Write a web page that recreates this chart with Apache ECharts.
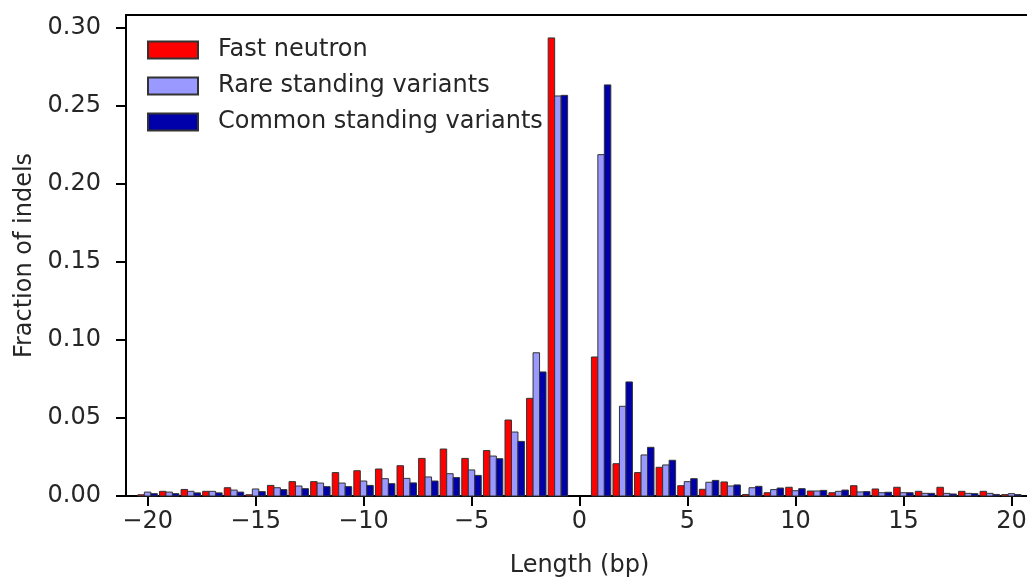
<!DOCTYPE html>
<html>
<head>
<meta charset="utf-8">
<script src="https://cdn.jsdelivr.net/npm/echarts@6/dist/echarts.min.js"></script>
<style>
html,body{margin:0;padding:0;background:#fff;}
#chart{width:1027px;height:577px;}
</style>
</head>
<body>
<div id="chart"></div>
<script>
const lengths = [-20,-19,-18,-17,-16,-15,-14,-13,-12,-11,-10,-9,-8,-7,-6,-5,-4,-3,-2,-1,
                 1,2,3,4,5,6,7,8,9,10,11,12,13,14,15,16,17,18,19,20];
const fastNeutron = [0.0008,0.003,0.0042,0.003,0.0053,0.0008,0.0068,0.0092,0.0092,0.015,0.0162,0.0173,0.0194,0.0241,0.0301,0.0241,0.0291,0.0487,0.0626,0.2936,
                     0.0891,0.0207,0.015,0.0184,0.0066,0.0043,0.009,0.001,0.0021,0.0056,0.0032,0.0021,0.0066,0.0045,0.0056,0.003,0.0056,0.003,0.003,0.0009];
const rareStanding = [0.0025,0.0025,0.003,0.003,0.0038,0.0045,0.0053,0.0064,0.0083,0.0083,0.0096,0.0111,0.0113,0.0122,0.0143,0.0167,0.0256,0.041,0.0918,0.2564,
                      0.2188,0.0575,0.0263,0.0199,0.0092,0.0088,0.0064,0.0053,0.0041,0.0034,0.0032,0.003,0.0026,0.0021,0.0021,0.0017,0.0017,0.0017,0.0017,0.0015];
const commonStanding = [0.0015,0.0015,0.002,0.002,0.0025,0.0028,0.0041,0.0047,0.006,0.006,0.0068,0.0079,0.0084,0.0096,0.0118,0.0132,0.0239,0.035,0.0795,0.2568,
                        0.2635,0.0731,0.0312,0.0229,0.0111,0.01,0.0071,0.0062,0.0051,0.0047,0.0036,0.0038,0.0028,0.0024,0.0021,0.0017,0.0013,0.0015,0.001,0.0009];
const seriesNames = ['Fast neutron','Rare standing variants','Common standing variants'];
const xTicks = [-20,-15,-10,-5,0,5,10,15,20];
const yTicks = [0,0.05,0.10,0.15,0.20,0.25,0.30];

const colors = ['#ff0000','#9999ff','#0000aa'];
const offsets = [-0.3, 0, 0.3];
const barW = 0.3;
const font = 'DejaVu Sans';
const textColor = '#262626';
const fs = 24;

function makeSeries(name, values, idx){
  return {
    name: name,
    type: 'custom',
    itemStyle: {color: colors[idx], borderColor: '#333', borderWidth: 1},
    data: lengths.map((l,i)=>[l, values[i]]),
    renderItem: function(params, api){
      const x = api.value(0), y = api.value(1);
      const p0 = api.coord([x + offsets[idx] - barW/2, y]);
      const p1 = api.coord([x + offsets[idx] + barW/2, 0]);
      return {
        type: 'rect',
        shape: {x: p0[0], y: p0[1], width: p1[0]-p0[0], height: p1[1]-p0[1]},
        style: {fill: colors[idx], stroke: '#333', lineWidth: 1}
      };
    }
  };
}

const chart = echarts.init(document.getElementById('chart'), null, {renderer:'canvas'});
chart.setOption({
  animation: false,
  backgroundColor: '#fff',
  textStyle: {fontFamily: font},
  grid: {left: 126, top: 15, bottom: 81, right: -6, outerBoundsMode: 'none', containLabel: false,
         show: true, borderColor: '#000', borderWidth: 2, backgroundColor: 'transparent'},
  legend: {
    orient: 'vertical', left: 147, top: 38,
    itemWidth: 50, itemHeight: 17, itemGap: 12, padding: 0,
    icon: 'rect',
    data: seriesNames,
    textStyle: {fontFamily: font, fontSize: fs, color: textColor, padding: [0,0,0,15]}
  },
  xAxis: {
    type: 'value', min: -21, max: 21,
    name: 'Length (bp)', nameLocation: 'middle', nameGap: 58,
    nameTextStyle: {fontFamily: font, fontSize: fs, color: textColor},
    axisLine: {show: true, onZero: false, lineStyle: {color: '#000', width: 2}},
    axisTick: {show: true, customValues: xTicks, length: 10, lineStyle: {color: '#000', width: 2}},
    axisLabel: {customValues: xTicks, margin: 14, fontFamily: font, fontSize: fs, color: textColor,
      formatter: v => v < 0 ? '\u2212' + Math.abs(v) : String(v)},
    splitLine: {show: false}
  },
  yAxis: {
    type: 'value', min: 0, max: 0.3083,
    name: 'Fraction of indels', nameLocation: 'middle', nameGap: 89,
    nameTextStyle: {fontFamily: font, fontSize: fs, color: textColor},
    axisLine: {show: true, onZero: false, lineStyle: {color: '#000', width: 2}},
    axisTick: {show: true, customValues: yTicks, length: 10, lineStyle: {color: '#000', width: 2}},
    axisLabel: {customValues: yTicks, margin: 25, fontFamily: font, fontSize: fs, color: textColor,
      formatter: v => v.toFixed(2)},
    splitLine: {show: false}
  },
  series: [
    makeSeries(seriesNames[0], fastNeutron, 0),
    makeSeries(seriesNames[1], rareStanding, 1),
    makeSeries(seriesNames[2], commonStanding, 2)
  ]
});
</script>
</body>
</html>
